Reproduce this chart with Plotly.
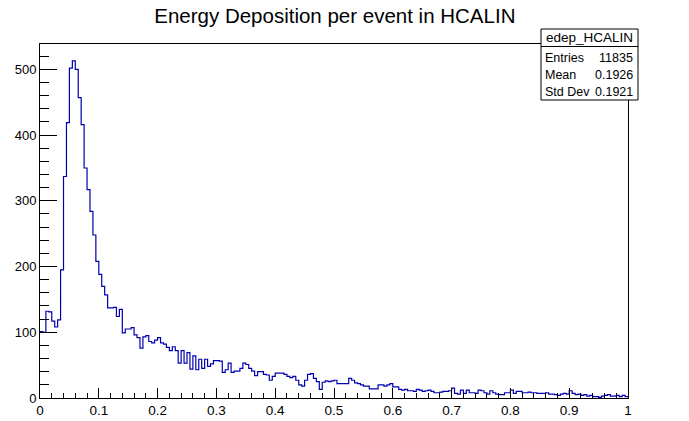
import numpy as np
import plotly.graph_objects as go

# Histogram definition: 200 bins on [0, 1] GeV
n_bins = 200
x_min, x_max = 0.0, 1.0

counts = [
    101, 100, 132, 131, 117, 108, 119, 195, 337, 419,
    502, 513, 500, 457, 416, 350, 317, 284, 248, 208,
    188, 170, 157, 137, 137, 138, 124, 135, 99, 105,
    105, 107, 96, 92, 76, 93, 95, 86, 84, 88,
    92, 84, 82, 77, 72, 78, 72, 53, 72, 53,
    69, 44, 64, 43, 59, 45, 59, 48, 52, 57,
    57, 56, 39, 43, 53, 39, 41, 41, 45, 53,
    51, 45, 41, 34, 40, 40, 36, 35, 27, 33,
    38, 38, 38, 36, 33, 31, 33, 27, 20, 18,
    27, 36, 37, 30, 25, 13, 24, 26, 25, 26,
    27, 22, 22, 22, 22, 30, 27, 23, 22, 20,
    18, 18, 14, 14, 14, 20, 20, 18, 20, 22,
    17, 17, 13, 12, 13, 11, 11, 10, 13, 12,
    10, 11, 12, 10, 8, 8, 9, 10, 10, 11,
    15, 7, 6, 12, 7, 12, 8, 8, 7, 12,
    11, 8, 6, 11, 8, 6, 5, 5, 8, 8,
    12, 7, 10, 10, 8, 8, 9, 8, 8, 7,
    7, 7, 8, 6, 6, 5, 4, 6, 7, 6,
    11, 7, 5, 6, 4, 5, 3, 4, 2, 2,
    1, 3, 4, 5, 3, 3, 4, 2, 4, 2,
]

hist_name = "edep_HCALIN"
title = "Energy Deposition per event in HCALIN"
stat_names = ["Entries", "Mean", "Std Dev"]
stat_values = ["11835", "0.1926", "0.1921"]

edges = np.linspace(x_min, x_max, n_bins + 1)
y_step = list(counts) + [counts[-1]]
y_top = 1.05 * max(counts)

font = "Liberation Sans, Arial, Helvetica, sans-serif"

fig = go.Figure()
fig.add_trace(go.Scatter(
    x=edges, y=y_step, mode="lines", line_shape="hv",
    line=dict(color="rgb(0,0,175)", width=1.2),
    hoverinfo="skip", showlegend=False,
))

fig.update_layout(
    width=689, height=421,
    margin=dict(l=40, r=61, t=44, b=23),
    paper_bgcolor="white", plot_bgcolor="white",
    font=dict(family=font, size=13, color="black"),
    title=dict(text=title, x=0.486, xanchor="center", y=0.962, yanchor="middle",
               font=dict(family=font, size=20.5, color="black")),
    showlegend=False,
)

fig.update_xaxes(
    range=[x_min, x_max], showgrid=False, zeroline=False, automargin=False,
    showline=True, linecolor="black", linewidth=1, mirror=True,
    ticks="inside", ticklen=10, tickcolor="black", tickwidth=1,
    tickmode="linear", dtick=0.1, tick0=0,
    minor=dict(ticks="inside", ticklen=5, dtick=0.02, tickcolor="black", showgrid=False),
    tickfont=dict(family=font, size=13.5),
)
fig.update_yaxes(
    range=[0, y_top], showgrid=False, zeroline=False, automargin=False,
    showline=True, linecolor="black", linewidth=1, mirror=True,
    ticks="inside", ticklen=17, tickcolor="black", tickwidth=1,
    tickmode="linear", dtick=100, tick0=0,
    minor=dict(ticks="inside", ticklen=9, dtick=20, tickcolor="black", showgrid=False),
    tickfont=dict(family=font, size=13),
)

# Statistics box (paper coordinates)
W, H = 689.0, 421.0
pw, ph = W - 40 - 61, H - 44 - 23
def px(x):
    return (x - 40) / pw
def py(y):
    return (H - 23 - y) / ph

bx0, bx1, by0, by1, hdr = 541, 638, 29, 100, 46.5
fig.add_shape(type="rect", xref="paper", yref="paper",
              x0=px(bx0), x1=px(bx1), y0=py(by1), y1=py(by0),
              line=dict(color="black", width=1), fillcolor="white", layer="above")
fig.add_shape(type="line", xref="paper", yref="paper",
              x0=px(bx0), x1=px(bx1), y0=py(hdr), y1=py(hdr),
              line=dict(color="black", width=1), layer="above")
fig.add_annotation(xref="paper", yref="paper", x=px((bx0 + bx1) / 2), y=py(37.5),
                   text=hist_name, showarrow=False, xanchor="center", yanchor="middle",
                   font=dict(family=font, size=13.5))
row_y = [58, 75, 92]
for name, val, ry in zip(stat_names, stat_values, row_y):
    fig.add_annotation(xref="paper", yref="paper", x=px(bx0 + 2), y=py(ry),
                       text=name, showarrow=False, xanchor="left", yanchor="middle",
                       font=dict(family=font, size=12.5))
    fig.add_annotation(xref="paper", yref="paper", x=px(bx1 - 3), y=py(ry),
                       text=val, showarrow=False, xanchor="right", yanchor="middle",
                       font=dict(family=font, size=12.5))

fig.write_html("out.html")
